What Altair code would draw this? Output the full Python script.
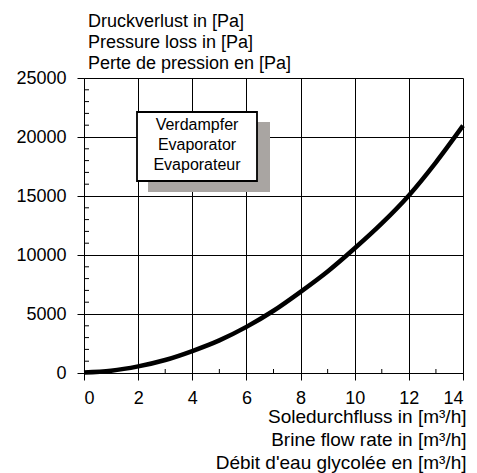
import altair as alt
import pandas as pd

FONT = "Liberation Sans"

# Curve
flow = [0, 1, 2, 3, 4, 5, 6, 7, 8, 9, 10, 11, 12, 13, 14]
pressure = [40, 190, 560, 1100, 1860, 2765, 3910, 5275, 6880, 8605, 10570, 12680, 15050, 17855, 20960]

x_ticks = [0, 2, 4, 6, 8, 10, 12, 14]
y_ticks = [0, 5000, 10000, 15000, 20000, 25000]
x_minor = [1, 3, 5, 7, 9, 11, 13]
y_minor = [1000, 2000, 3000, 4000, 6000, 7000, 8000, 9000, 11000, 12000, 13000, 14000,
           16000, 17000, 18000, 19000, 21000, 22000, 23000, 24000]

title_lines = ["Druckverlust in [Pa]", "Pressure loss in [Pa]", "Perte de pression en [Pa]"]
x_title_lines = ["Soledurchfluss in [m³/h]", "Brine flow rate in [m³/h]", "Débit d'eau glycolée en [m³/h]"]
box_lines = ["Verdampfer", "Evaporator", "Evaporateur"]

W, H = 379, 295

df = pd.DataFrame({"flow": flow, "pressure": pressure})
df_xm = pd.DataFrame({"flow": x_minor})
df_ym = pd.DataFrame({"pressure": y_minor})
one = pd.DataFrame({"a": [0]})

xscale = alt.Scale(domain=[0, 14], nice=False, zero=False)
yscale = alt.Scale(domain=[0, 25000], nice=False)

axis_common = dict(
    grid=True, gridColor="black", gridOpacity=1, gridWidth=1,
    domainColor="black", domainWidth=1, tickColor="black", tickSize=7, tickWidth=1,
    labelFont=FONT, labelFontSize=18, labelColor="black", format="d",
)

X = alt.X("flow:Q", scale=xscale,
          axis=alt.Axis(values=x_ticks, title=x_title_lines, labelPadding=9,
                        titleFont=FONT, titleFontSize=19, titleFontWeight="normal",
                        titleColor="black", titleAlign="right", titleAnchor="end",
                        titleBaseline="alphabetic", titleLineHeight=23, titleX=W + 3, titleY=49,
                        **axis_common))
Y = alt.Y("pressure:Q", scale=yscale,
          axis=alt.Axis(values=y_ticks, title=None, labelPadding=11, **axis_common))

line = alt.Chart(df).mark_line(color="black", strokeWidth=4.5, interpolate="monotone").encode(
    x=X, y=Y,
)

ym = alt.Chart(df_ym).mark_rule(color="black", strokeWidth=1).encode(
    y=Y, x=alt.value(0), x2=alt.value(5),
)
xm = alt.Chart(df_xm).mark_rule(color="black", strokeWidth=1).encode(
    x=X, y=alt.value(H), y2=alt.value(H - 4),
)

shadow = alt.Chart(one).mark_rect(color="#a9a5a2").encode(
    x=alt.value(64), x2=alt.value(186), y=alt.value(44), y2=alt.value(114)
)
box = alt.Chart(one).mark_rect(fill="white", stroke="black", strokeWidth=1.8).encode(
    x=alt.value(53), x2=alt.value(173), y=alt.value(34), y2=alt.value(103)
)
box_text = alt.Chart(one).mark_text(
    text=box_lines, font=FONT, fontSize=16, color="black", lineHeight=20,
    align="center", baseline="middle",
).encode(x=alt.value(113), y=alt.value(47))

chart = alt.layer(line, ym, xm, shadow, box, box_text).properties(
    width=W, height=H,
    title=alt.TitleParams(text=title_lines, anchor="start", frame="group", font=FONT, fontSize=18,
                          fontWeight="normal", color="black", lineHeight=21, dx=4, offset=-4),
    autosize=alt.AutoSizeParams(type="none"),
    padding={"left": 76, "top": 70, "right": 6, "bottom": 100},
).configure_view(stroke="black", strokeWidth=1).configure(background="white")

chart.save("out.html", embed_options={"renderer": "svg", "actions": False})
